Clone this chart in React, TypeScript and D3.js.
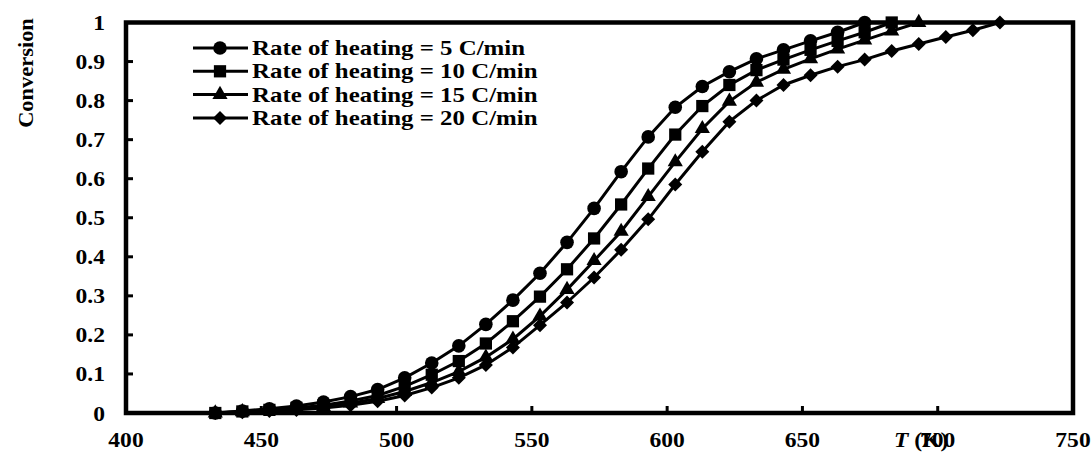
import React from "react";
import * as d3 from "d3";

// temperatures (K), 10 K apart starting at 433
const temps = [433, 443, 453, 463, 473, 483, 493, 503, 513, 523, 533, 543, 553, 563, 573, 583, 593, 603, 613, 623, 633, 643, 653, 663, 673, 683, 693, 703, 713, 723];

const rate5 = [0, 0.005, 0.011, 0.018, 0.028, 0.042, 0.06, 0.09, 0.128, 0.172, 0.227, 0.289, 0.358, 0.437, 0.524, 0.618, 0.707, 0.783, 0.836, 0.874, 0.907, 0.93, 0.953, 0.975, 1.0];
const rate10 = [0, 0.004, 0.008, 0.013, 0.02, 0.031, 0.045, 0.068, 0.098, 0.133, 0.178, 0.235, 0.298, 0.368, 0.447, 0.534, 0.626, 0.713, 0.786, 0.84, 0.878, 0.905, 0.93, 0.953, 0.975, 1.0];
const rate15 = [0, 0.003, 0.006, 0.01, 0.016, 0.025, 0.037, 0.055, 0.078, 0.106, 0.143, 0.189, 0.248, 0.316, 0.39, 0.465, 0.554, 0.643, 0.728, 0.798, 0.847, 0.88, 0.907, 0.932, 0.955, 0.978, 1.0];
const rate20 = [0, 0.002, 0.005, 0.008, 0.013, 0.02, 0.03, 0.045, 0.065, 0.09, 0.123, 0.168, 0.225, 0.283, 0.347, 0.418, 0.496, 0.585, 0.669, 0.746, 0.8, 0.84, 0.865, 0.887, 0.905, 0.927, 0.945, 0.963, 0.98, 1.0];

const seriesNames = ["Rate of heating = 5 C/min", "Rate of heating = 10 C/min", "Rate of heating = 15 C/min", "Rate of heating = 20 C/min"];
const seriesValues = [rate5, rate10, rate15, rate20];
const markerKinds = ["circle", "square", "triangle", "diamond"];

const xTicks = [400, 450, 500, 550, 600, 650, 700, 750];
const yTicks = [0, 0.1, 0.2, 0.3, 0.4, 0.5, 0.6, 0.7, 0.8, 0.9, 1];

const W = 1092;
const H = 453;
const FONT = "'Liberation Serif', 'Times New Roman', serif";

function markerPath(kind: string) {
  if (kind === "circle") return d3.symbol(d3.symbolCircle, 145)()!;
  if (kind === "square") return d3.symbol(d3.symbolSquare, 150)()!;
  if (kind === "triangle") return d3.symbol(d3.symbolTriangle, 100)()!;
  const r = 7;
  return `M0,${-r}L${r},0L0,${r}L${-r},0Z`;
}

// text drawn a bit wider than the font, like the original figure
function Txt({ x, y, sx = 1.07, anchor = "start", size = 22, children }: any) {
  return (
    <text transform={`translate(${x},${y}) scale(${sx},1)`} textAnchor={anchor} fontSize={size}>
      {children}
    </text>
  );
}

export default function App() {
  const x = d3.scaleLinear().domain([400, 750]).range([126, 1073]);
  const y = d3.scaleLinear().domain([0, 1]).range([413, 22.5]);

  const line = d3
    .line<[number, number]>()
    .x((d) => x(d[0]))
    .y((d) => y(d[1]));

  const left = x(400);
  const right = x(750);
  const top = y(1);
  const bottom = y(0);

  return (
    <svg
      width={W}
      height={H}
      style={{ position: "absolute", left: 0, top: 0, background: "#fff" }}
      fontFamily={FONT}
      fontWeight="bold"
    >
      <rect x={0} y={0} width={W} height={H} fill="#fff" />

      {/* series */}
      {seriesValues.map((vals, i) => {
        const pts: [number, number][] = vals.map((v, j) => [temps[j], v]);
        const p = markerPath(markerKinds[i]);
        return (
          <g key={i}>
            <path d={line(pts)!} fill="none" stroke="#000" strokeWidth={3} />
            {pts.map((d, j) => (
              <path key={j} d={p} transform={`translate(${x(d[0])},${y(d[1])})`} fill="#000" />
            ))}
          </g>
        );
      })}

      {/* frame */}
      <rect x={left} y={top} width={right - left} height={bottom - top} fill="none" stroke="#000" strokeWidth={4.5} />

      {/* y ticks */}
      {yTicks.map((t) => (
        <g key={t}>
          <line x1={left} x2={left + 7} y1={y(t)} y2={y(t)} stroke="#000" strokeWidth={3} />
          <Txt x={105} y={y(t) + 7.5} anchor="end">
            {String(t)}
          </Txt>
        </g>
      ))}

      {/* x ticks */}
      {xTicks.map((t) => (
        <g key={t}>
          <line x1={x(t)} x2={x(t)} y1={bottom} y2={bottom - 7} stroke="#000" strokeWidth={3} />
          <Txt x={x(t)} y={447} anchor="middle">
            {String(t)}
          </Txt>
        </g>
      ))}

      {/* axis titles */}
      <text transform="translate(33,73) rotate(-90) scale(1.02,1)" textAnchor="middle" fontSize={22}>
        Conversion
      </text>
      <Txt x={894} y={447}>
        <tspan fontStyle="italic">T</tspan>
        <tspan> (K)</tspan>
      </Txt>

      {/* legend */}
      {seriesNames.map((name, i) => {
        const ly = 48 + i * 23.3;
        return (
          <g key={name}>
            <line x1={193} x2={248} y1={ly} y2={ly} stroke="#000" strokeWidth={3} />
            <path d={markerPath(markerKinds[i])} transform={`translate(220,${ly})`} fill="#000" />
            <Txt x={252} y={ly + 7} sx={1.13}>
              {name}
            </Txt>
          </g>
        );
      })}
    </svg>
  );
}
